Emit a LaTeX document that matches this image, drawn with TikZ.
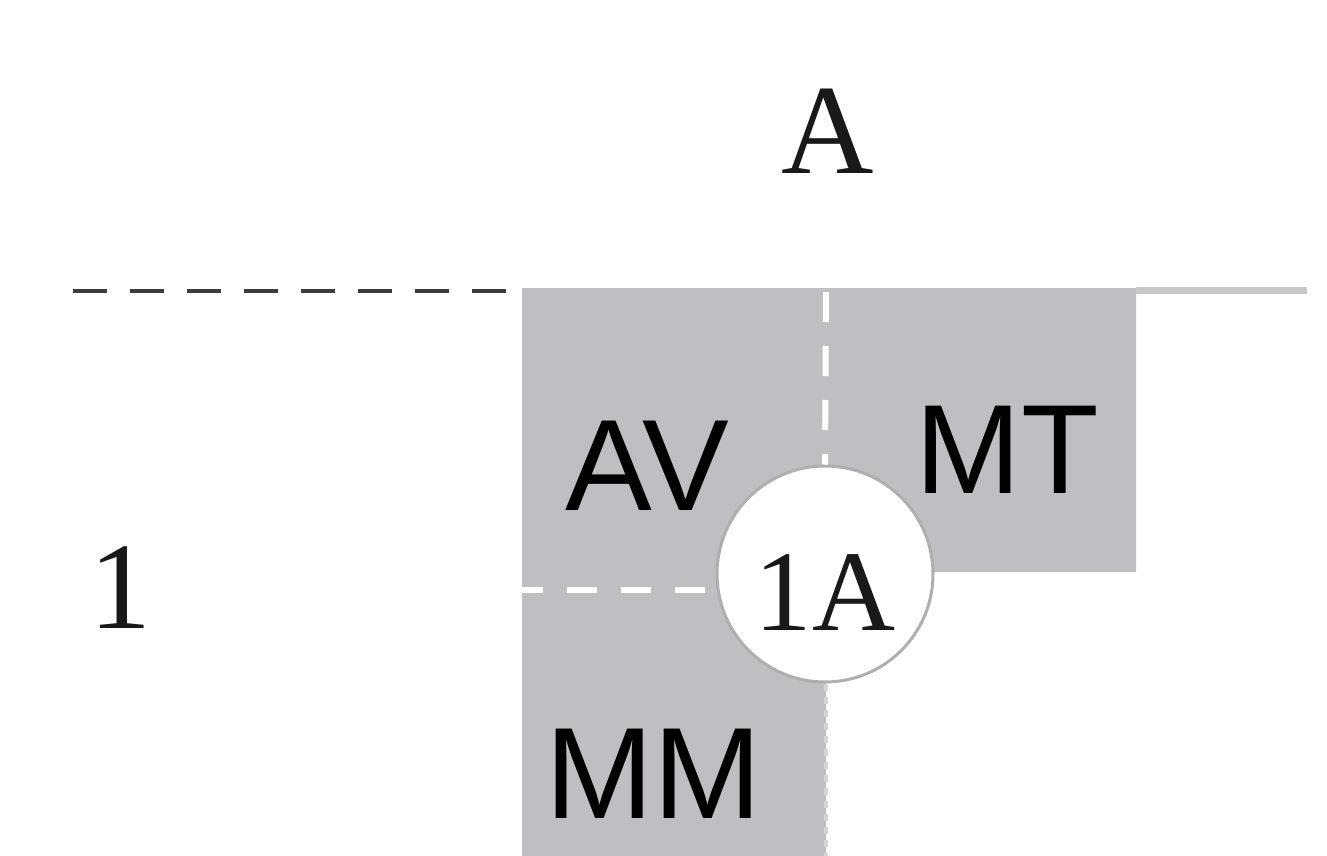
\documentclass[tikz,border=0pt]{standalone}
\usepackage{fontspec}
\setmainfont{Liberation Serif}
\newfontfamily\arialf{Liberation Sans}
\definecolor{fillgray}{RGB}{191,191,193}
\definecolor{linegray}{RGB}{200,200,200}
\definecolor{dashdark}{RGB}{60,60,60}
\definecolor{circgray}{RGB}{175,175,175}
\definecolor{edgegray}{RGB}{212,212,212}
\tikzset{
  serifbig/.style={inner sep=0pt, anchor=base, font=\fontsize{128pt}{130pt}\selectfont, text=black!90},
  sanslab/.style={inner sep=0pt, anchor=base west, font=\arialf\fontsize{130pt}{132pt}\selectfont, text=black},
  whitedash/.style={draw=white, line width=6pt, dash pattern=on 30pt off 24pt},
  darkdash/.style={draw=dashdark, line width=4pt, dash pattern=on 34pt off 23pt}
}
\begin{document}
\begin{tikzpicture}[x=1pt,y=-1pt]
\useasboundingbox (0,0) rectangle (1327,856);
\fill[white] (0,0) rectangle (1327,856);
% gray region
\fill[fillgray] (522,288) -- (1136,288) -- (1136,572) -- (826,572) -- (826,856) -- (522,856) -- cycle;
% lines at top
\coordinate (dl1) at (73,291);
\coordinate (dl2) at (508,291);
\coordinate (tr1) at (1136,290);
\coordinate (tr2) at (1307,290);
\draw[darkdash] (dl1) -- (dl2);
\draw[draw=linegray, line width=7pt] (tr1) -- (tr2);
% lower edge
\coordinate (le1) at (826,684);
\coordinate (le2) at (826,856);
\draw[draw=edgegray, line width=4pt, dash pattern=on 7pt off 6pt] (le1) -- (le2);
% circle
\node[circle, draw=circgray, line width=3pt, fill=white, minimum size=216pt, inner sep=0pt] (c1A) at (825,574) {};
\coordinate (vt) at (826,292);
\coordinate (hl) at (513,590);
\draw[whitedash] (vt) -- (c1A.north);
\draw[whitedash] (hl) -- (hl -| c1A.west);
% labels
\node[serifbig] (labA) at (828,173) {A};
\node[serifbig, font=\fontsize{124pt}{126pt}\selectfont] (lab1) at (120,628) {1};
\node[serifbig, font=\fontsize{115pt}{117pt}\selectfont] (lab1A) at (825,630) {1A};
\node[sanslab] (labAV) at (565,510) {AV};
\node[sanslab, font=\arialf\fontsize{127pt}{129pt}\selectfont] (labMT) at (915,493) {MT};
\node[sanslab] (labMM) at (545,818) {MM};
\end{tikzpicture}
\end{document}
